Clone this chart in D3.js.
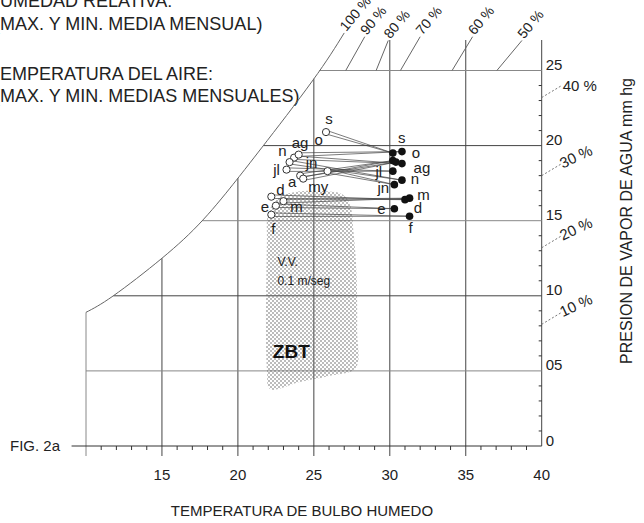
<!DOCTYPE html>
<html>
<head>
<meta charset="utf-8">
<script src="https://d3js.org/d3.v7.min.js"></script>
<style>
  body { margin: 0; background: #fff; }
  svg { display: block; font-family: "Liberation Sans", Arial, sans-serif; }
</style>
</head>
<body>
<div id="chart"></div>
<script>
// monthly values: open circle = min. temp / max. vapour pressure, filled = max. temp / min.
var months = ["e", "f", "m", "a", "my", "jn", "jl", "ag", "s", "o", "n", "d"];
var tMin = [22.5, 22.2, 23.0, 24.1, 24.3, 25.9, 23.2, 23.7, 25.8, 24.0, 23.4, 22.2];
var pMax = [16.0, 15.4, 16.3, 18.0, 17.8, 18.3, 18.4, 19.2, 20.9, 19.4, 18.9, 16.6];
var tMax = [30.3, 31.3, 31.3, 30.2, 30.4, 30.3, 30.2, 30.8, 30.2, 30.8, 30.8, 31.0];
var pMin = [15.8, 15.3, 16.5, 19.0, 18.9, 17.4, 18.3, 18.8, 19.5, 19.6, 17.7, 16.4];

// saturation curve (100 %)
var satT = [10.0, 11.8, 15.0, 17.7, 19.9, 21.6, 24.9, 27.0];
var satP = [8.9, 10.0, 12.5, 15.05, 17.7, 19.9, 24.3, 27.5];

// short relative humidity lines above the 25 line
var rhTop = ["90 %", "80 %", "70 %", "60 %", "50 %"];
var rhTopT0 = [27.1, 29.1, 30.7, 34.1, 37.05];
var rhTopT1 = [28.35, 29.9, 32.0, 35.45, 38.7];
var rhTopP1 = [27.25, 27.0, 27.25, 27.25, 27.0];

// relative humidity marks on the right axis
var rhSide = ["40 %", "30 %", "20 %", "10 %"];
var rhSideP = [23.2, 18.0, 13.2, 8.1];

// comfort zone (ZBT) outline
var zoneT = [23.42, 25.4, 26.9, 27.4, 27.6, 27.8, 27.85, 27.75, 26.0, 24.08, 22.11, 21.91, 21.91, 21.97, 22.5];
var zoneP = [16.84, 16.98, 16.75, 16.0, 14.38, 11.72, 7.72, 5.19, 4.66, 4.26, 3.79, 5.06, 13.72, 15.38, 16.38];

var xTicks = [15, 20, 25, 30, 35, 40];
var yTicks = [0, 5, 10, 15, 20, 25];
var yTickLabels = ["0", "05", "10", "15", "20", "25"];

var width = 644, height = 523;

var svg = d3.select("#chart").append("svg")
  .attr("width", width)
  .attr("height", height);

var x = d3.scaleLinear().domain([10, 40]).range([86, 541.7]);
var y = d3.scaleLinear().domain([0, 25]).range([446, 70.5]);
var topP = 27.03;
var sat = d3.scaleLinear().domain(satT).range(satP);
var satInv = d3.scaleLinear().domain(satP).range(satT);

var ink = "#333";

// stipple pattern for the zone (staggered dots)
var pat = svg.append("defs").append("pattern")
  .attr("id", "dots")
  .attr("width", 4).attr("height", 4)
  .attr("patternUnits", "userSpaceOnUse");
pat.append("circle").attr("cx", 1).attr("cy", 1).attr("r", 0.8).attr("fill", "#666");
pat.append("circle").attr("cx", 3).attr("cy", 3).attr("r", 0.8).attr("fill", "#666");

// header text
var header = [
  {t: "HUMEDAD RELATIVA:", x: -13, y: 7},
  {t: "(MAX. Y MIN. MEDIA MENSUAL)", x: -6, y: 30},
  {t: "TEMPERATURA DEL AIRE:", x: -11, y: 80},
  {t: "(MAX. Y MIN. MEDIAS MENSUALES)", x: -6, y: 102}
];
svg.selectAll(".hdr").data(header).enter().append("text")
  .attr("x", d => d.x).attr("y", d => d.y)
  .style("font-size", "18px").attr("fill", "#222")
  .text(d => d.t);

// vertical grid lines
var gridT = [10, 15, 20, 25, 30, 35, 40];
svg.selectAll(".vgrid").data(gridT).enter().append("line")
  .attr("x1", d => x(d)).attr("x2", d => x(d))
  .attr("y1", d => d <= 25 ? y(sat(d)) : y(topP))
  .attr("y2", d => d == 40 ? y(0) : y(0) + 10)
  .attr("stroke", d => d == 10 ? "#888" : "#444")
  .attr("stroke-width", 1);

// horizontal grid lines
var gridP = [5, 10, 15, 20, 25];
svg.selectAll(".hgrid").data(gridP).enter().append("line")
  .attr("x1", d => x(Math.max(10, satInv(d)))).attr("x2", x(40))
  .attr("y1", d => y(d)).attr("y2", d => y(d))
  .attr("stroke", d => d % 10 == 0 ? "#444" : "#888")
  .attr("stroke-width", 1);

// base axis
svg.append("line")
  .attr("x1", x(9.05)).attr("x2", x(40))
  .attr("y1", y(0)).attr("y2", y(0))
  .attr("stroke", ink);

// minor ticks
var minorT = d3.range(11, 40).filter(d => d % 5 != 0);
svg.selectAll(".xminor").data(minorT).enter().append("line")
  .attr("x1", d => x(d)).attr("x2", d => x(d))
  .attr("y1", y(0)).attr("y2", y(0) + 4)
  .attr("stroke", ink);
var minorP = d3.range(1, 25).filter(d => d % 5 != 0);
svg.selectAll(".yminor").data(minorP).enter().append("line")
  .attr("x1", x(40) - 3).attr("x2", x(40))
  .attr("y1", d => y(d)).attr("y2", d => y(d))
  .attr("stroke", ink);

// saturation curve
var satLine = d3.line().x(d => x(d[0])).y(d => y(d[1])).curve(d3.curveNatural);
svg.append("path")
  .datum(satT.map((t, i) => [t, satP[i]]))
  .attr("d", satLine)
  .attr("fill", "none").attr("stroke", "#666").attr("stroke-width", 1);

// short humidity lines at the top
svg.selectAll(".rhtop").data(rhTop).enter().append("line")
  .attr("x1", (d, i) => x(rhTopT0[i])).attr("y1", y(25))
  .attr("x2", (d, i) => x(rhTopT1[i])).attr("y2", (d, i) => y(rhTopP1[i]))
  .attr("stroke", "#666");

var topLabels = [{t: "100 %", T: satT[satT.length - 1], P: satP[satP.length - 1]}]
  .concat(rhTop.map((t, i) => ({t: t, T: rhTopT1[i], P: rhTopP1[i]})));
svg.selectAll(".rhtoplab").data(topLabels).enter().append("text")
  .attr("transform", d => "translate(" + (x(d.T) + 2) + "," + (y(d.P) - 1) + ") rotate(-50)")
  .style("font-size", "14px").attr("fill", "#222")
  .text(d => d.t);

// humidity marks on the right axis
svg.selectAll(".rhside").data(rhSide).enter().append("line")
  .attr("x1", x(40)).attr("y1", (d, i) => y(rhSideP[i]))
  .attr("x2", x(40) + 20).attr("y2", (d, i) => y(rhSideP[i]) - 12)
  .attr("stroke", "#777").attr("stroke-dasharray", "2,2");
svg.selectAll(".rhsidelab").data(rhSide).enter().append("text")
  .attr("transform", (d, i) => "translate(" + (x(40) + 21) + "," + (y(rhSideP[i]) - 7) + ") rotate(" + (i == 0 ? 0 : -25) + ")")
  .style("font-size", "15px").attr("fill", "#222")
  .text(d => d);

// axis labels
svg.selectAll(".xlab").data(xTicks).enter().append("text")
  .attr("x", d => x(d)).attr("y", 480)
  .attr("text-anchor", "middle")
  .style("font-size", "15px").attr("fill", "#222")
  .text(d => d);
svg.selectAll(".ylab").data(yTicks).enter().append("text")
  .attr("x", x(40) + 4).attr("y", d => y(d) - 0.5)
  .style("font-size", "15px").attr("fill", "#222")
  .text((d, i) => yTickLabels[i]);

svg.append("text")
  .attr("x", 10).attr("y", 451)
  .style("font-size", "15px").attr("fill", "#222")
  .text("FIG. 2a");

svg.append("text")
  .attr("x", 302).attr("y", 516)
  .attr("text-anchor", "middle")
  .style("font-size", "15px").attr("fill", "#222")
  .text("TEMPERATURA DE BULBO HUMEDO");

svg.append("text")
  .attr("transform", "translate(632,221) rotate(-90)")
  .attr("text-anchor", "middle")
  .style("font-size", "16px").attr("fill", "#222")
  .text("PRESION DE VAPOR DE AGUA mm hg");

// comfort zone
var zoneLine = d3.line().x(d => x(d[0])).y(d => y(d[1])).curve(d3.curveCatmullRomClosed.alpha(0.5));
svg.append("path")
  .datum(zoneT.map((t, i) => [t, zoneP[i]]))
  .attr("d", zoneLine)
  .attr("fill", "url(#dots)");

svg.append("text").attr("x", x(22.6)).attr("y", y(12.0))
  .style("font-size", "12px").attr("fill", "#222").text("V.V.");
svg.append("text").attr("x", x(22.6)).attr("y", y(10.7))
  .style("font-size", "12px").attr("fill", "#222").text("0.1 m/seg");
svg.append("text").attr("x", x(22.3)).attr("y", y(5.85))
  .style("font-size", "19px").style("font-weight", "bold").attr("fill", "#111").text("ZBT");

// monthly wedges: two thin lines from open circle to filled dot
var pts = months.map((m, i) => ({
  m: m,
  ox: x(tMin[i]), oy: y(pMax[i]),
  fx: x(tMax[i]), fy: y(pMin[i])
}));
pts.forEach(function (d) {
  var dx = d.fx - d.ox, dy = d.fy - d.oy, len = Math.sqrt(dx * dx + dy * dy);
  var nx = -dy / len * 1.8, ny = dx / len * 1.8;
  [1, -1].forEach(function (s) {
    svg.append("line")
      .attr("x1", d.ox + s * nx).attr("y1", d.oy + s * ny)
      .attr("x2", d.fx).attr("y2", d.fy)
      .attr("stroke", "#444").attr("stroke-width", 0.7);
  });
});

svg.selectAll(".fdot").data(pts).enter().append("circle")
  .attr("cx", d => d.fx).attr("cy", d => d.fy).attr("r", 3.8)
  .attr("fill", "#111");
svg.selectAll(".odot").data(pts).enter().append("circle")
  .attr("cx", d => d.ox).attr("cy", d => d.oy).attr("r", 3.6)
  .attr("fill", "#fff").attr("stroke", ink).attr("stroke-width", 1);

// label offsets (px) around the markers
var openOff = {e: [-11, 1], f: [2, 14], m: [13, 6], a: [-8, 6], my: [15, 8], jn: [-16, -8],
  jl: [-10, 0], ag: [6, -15], s: [3, -13], o: [20, -15], n: [-7, -11], d: [9, -7]};
var fillOff = {e: [-13, 0], f: [1, 12], m: [14, -3], jn: [-11, 3], jl: [-14, 1],
  ag: [20, 4], s: [9, -15], o: [14, 1], n: [13, -1], d: [13, 8]};

svg.selectAll(".olab").data(pts).enter().append("text")
  .attr("x", d => d.ox + openOff[d.m][0]).attr("y", d => d.oy + openOff[d.m][1])
  .attr("dy", "0.35em").attr("text-anchor", "middle")
  .style("font-size", "15px").attr("fill", "#222")
  .text(d => d.m);
svg.selectAll(".flab").data(pts.filter(d => fillOff[d.m])).enter().append("text")
  .attr("x", d => d.fx + fillOff[d.m][0]).attr("y", d => d.fy + fillOff[d.m][1])
  .attr("dy", "0.35em").attr("text-anchor", "middle")
  .style("font-size", "15px").attr("fill", "#222")
  .text(d => d.m);
</script>
</body>
</html>
